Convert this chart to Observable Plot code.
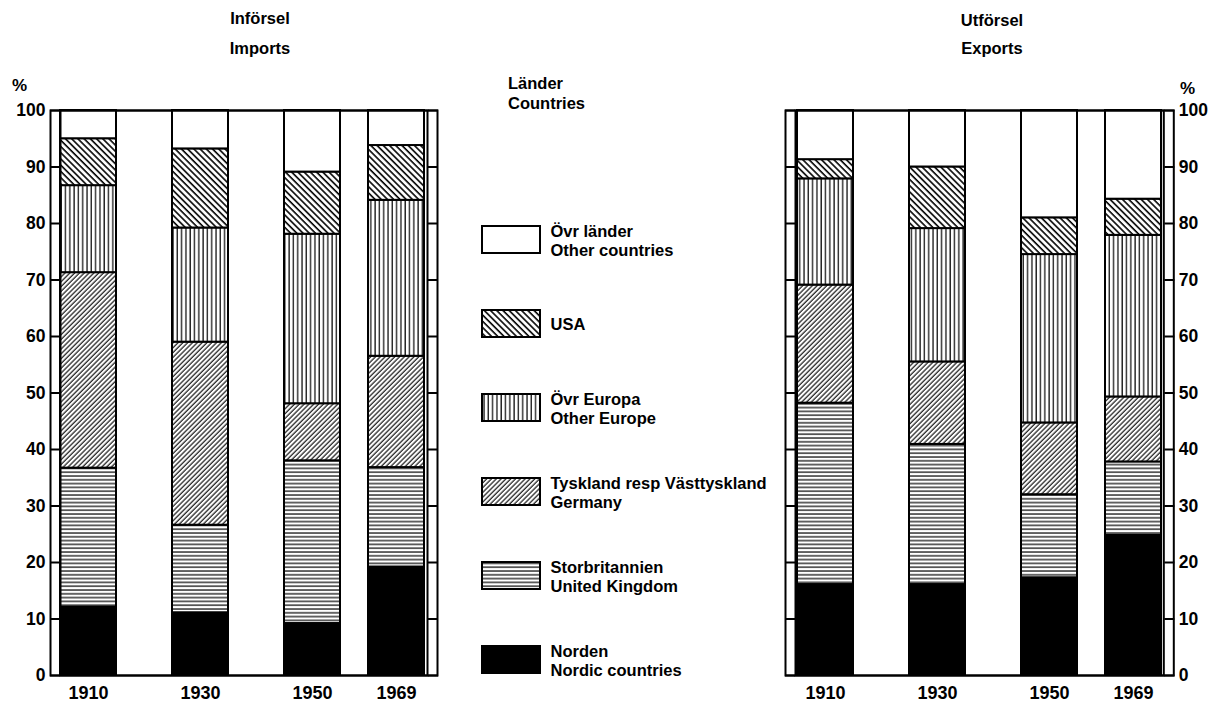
<!DOCTYPE html>
<html><head><meta charset="utf-8">
<script src="https://cdn.jsdelivr.net/npm/d3@7"></script>
<script src="https://cdn.jsdelivr.net/npm/@observablehq/plot@0.6"></script>
<style>
body{margin:0;background:#fff;}
#wrap{position:relative;width:1216px;height:704px;overflow:hidden;font-family:"Liberation Sans",Arial,sans-serif;color:#000;background:#fff;}
.abs{position:absolute;white-space:nowrap;line-height:18px;font-size:16.5px;font-weight:bold;}
.ctr{text-align:center;}
.plotbox{position:absolute;top:0;}
.plotbox svg{overflow:visible;}
.plotbox text{font-weight:bold;}
</style></head><body>
<svg width="0" height="0" style="position:absolute">
<defs>
<pattern id="p-usa" patternUnits="userSpaceOnUse" width="4.4" height="4.4" patternTransform="rotate(-45)"><rect width="4.4" height="4.4" fill="#fff"/><line x1="1" y1="0" x2="1" y2="4.4" stroke="#000" stroke-width="1.6"/></pattern>
<pattern id="p-ger" patternUnits="userSpaceOnUse" width="3.4" height="3.4" patternTransform="rotate(45)"><rect width="3.4" height="3.4" fill="#fff"/><line x1="1" y1="0" x2="1" y2="3.4" stroke="#000" stroke-width="1.1"/></pattern>
<pattern id="p-oe" patternUnits="userSpaceOnUse" width="4.3" height="4.3"><rect width="4.3" height="4.3" fill="#fff"/><line x1="1" y1="0" x2="1" y2="4.3" stroke="#000" stroke-width="1.2"/></pattern>
<pattern id="p-uk" patternUnits="userSpaceOnUse" width="3.8" height="3.8"><rect width="3.8" height="3.8" fill="#fff"/><line x1="0" y1="1" x2="3.8" y2="1" stroke="#000" stroke-width="1.2"/></pattern>
</defs></svg>
<div id="wrap">
  <div class="abs ctr" style="left:200px;width:120px;top:9px;">Införsel</div>
  <div class="abs ctr" style="left:200px;width:120px;top:39px;">Imports</div>
  <div class="abs ctr" style="left:932px;width:120px;top:11px;">Utförsel</div>
  <div class="abs ctr" style="left:932px;width:120px;top:39px;">Exports</div>
  <div class="abs" style="left:12px;top:77px;font-size:17px;">%</div>
  <div class="abs" style="left:1180px;top:80px;font-size:17px;">%</div>
  <div class="abs" style="left:508px;top:74px;">Länder</div>
  <div class="abs" style="left:508px;top:94px;">Countries</div>
  <div id="legend" class="plotbox" style="left:440px;"></div>
  <div id="left" class="plotbox" style="left:0px;"></div>
  <div id="right" class="plotbox" style="left:760px;"></div>
</div>
<script>
// ---- data ----
const years = ["1910", "1930", "1950", "1969"];
const categories = ["Norden", "Storbritannien", "Tyskland", "Övr Europa", "USA", "Övr länder"];
const categoryLabels = ["Norden\nNordic countries", "Storbritannien\nUnited Kingdom", "Tyskland resp Västtyskland\nGermany", "Övr Europa\nOther Europe", "USA", "Övr länder\nOther countries"];

// Införsel / Imports, % per year
const importsNorden = [12.1, 11.1, 9.2, 19.2];
const importsUK = [24.6, 15.5, 28.8, 17.6];
const importsGermany = [34.6, 32.4, 10.1, 19.7];
const importsOtherEurope = [15.4, 20.2, 30.0, 27.6];
const importsUSA = [8.3, 14.0, 11.0, 9.7];
const importsOther = [5.0, 6.8, 10.9, 6.2];

// Utförsel / Exports, % per year
const exportsNorden = [16.1, 16.1, 17.3, 24.8];
const exportsUK = [32.1, 24.8, 14.7, 13.0];
const exportsGermany = [20.9, 14.6, 12.7, 11.5];
const exportsOtherEurope = [18.8, 23.6, 29.8, 28.6];
const exportsUSA = [3.4, 10.9, 6.5, 6.4];
const exportsOther = [8.7, 10.0, 19.0, 15.7];

const yTicks = [0, 10, 20, 30, 40, 50, 60, 70, 80, 90, 100];

// ---- build ----
const fills = ["#000", "url(#p-uk)", "url(#p-ger)", "url(#p-oe)", "url(#p-usa)", "#fff"];
// x slots: years with empty spacer slots between them
const slots = ["1910", "s1", "s2", "s3", "1930", "s4", "s5", "s6", "1950", "s7", "s8", "1969"];
const FONT = "'Liberation Sans', Arial, sans-serif";

function rows(series) {
  return years.flatMap((y, i) => categories.map((c, j) => ({year: y, cat: c, value: series[j][i]})));
}

function chart(series, {width, ml, mr, insL, insR, labels}) {
  return Plot.plot({
    width, height: 704, marginTop: 110, marginBottom: 29, marginLeft: ml, marginRight: mr,
    style: {fontFamily: FONT, fontSize: "17.5px", background: "transparent", color: "#000", overflow: "visible"},
    x: {type: "band", domain: slots, padding: 0, insetLeft: insL, insetRight: insR, label: null, axis: null},
    y: {domain: [0, 100], label: null, axis: null},
    color: {type: "ordinal", domain: categories, range: fills},
    marks: [
      Plot.barY(rows(series), {x: "year", y: "value", fill: "cat", stroke: "#000", strokeWidth: 2, insetLeft: -14, insetRight: -14}),
      Plot.frame({stroke: "#000", strokeWidth: 2}),
      Plot.frame({stroke: "#000", strokeWidth: 2, insetLeft: -10, insetRight: -10}),
      Plot.axisY({anchor: "left", ticks: yTicks, tickSize: 10, tickPadding: 5, strokeWidth: 2, label: null, fontSize: 17.5,
        tickFormat: labels === "left" ? (d => d) : (() => "")}),
      Plot.axisY({anchor: "right", ticks: yTicks, tickSize: 10, tickPadding: 5, strokeWidth: 2, label: null, fontSize: 17.5,
        tickFormat: labels === "right" ? (d => d) : (() => "")}),
      Plot.axisX({anchor: "bottom", tickSize: 0, tickPadding: 11, fontSize: 18, label: null,
        tickFormat: d => years.includes(d) ? d : ""})
    ]
  });
}

document.getElementById("left").append(chart(
  [importsNorden, importsUK, importsGermany, importsOtherEurope, importsUSA, importsOther],
  {width: 450, ml: 60, mr: 23, insL: 14, insR: 16.5, labels: "left"}));

document.getElementById("right").append(chart(
  [exportsNorden, exportsUK, exportsGermany, exportsOtherEurope, exportsUSA, exportsOther],
  {width: 456, ml: 35, mr: 52.7, insL: 14.4, insR: 14.6, labels: "right"}));

// legend (top to bottom: reverse stack order)
const legendOrder = categories.slice().reverse();
const labelOf = Object.fromEntries(categories.map((c, i) => [c, categoryLabels[i]]));
document.getElementById("legend").append(Plot.plot({
  width: 320, height: 704, marginTop: 0, marginBottom: 0, marginLeft: 42, marginRight: 220,
  style: {fontFamily: FONT, fontSize: "16.5px", background: "transparent", color: "#000", overflow: "visible"},
  y: {type: "band", domain: legendOrder, range: [223, 675], paddingInner: 0.682, paddingOuter: 0, axis: null},
  color: {type: "ordinal", domain: categories, range: fills},
  marks: [
    Plot.cell(legendOrder, {y: d => d, fill: d => d, stroke: "#000", strokeWidth: 2}),
    Plot.text(legendOrder, {y: d => d, text: d => labelOf[d], frameAnchor: "right", dx: 10, textAnchor: "start", lineAnchor: "middle", lineHeight: 1.15, fontSize: 16.5})
  ]
}));
</script>
</body></html>
